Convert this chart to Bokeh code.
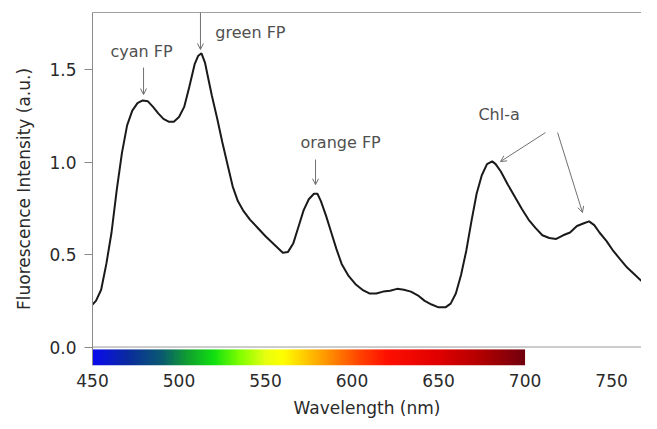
import numpy as np
from bokeh.plotting import figure
from bokeh.models import (Range1d, FixedTicker, LinearAxis, Label, Arrow, OpenHead,
                          Span, PrintfTickFormatter)
from bokeh.embed import file_html
from bokeh.resources import INLINE

# ---------------- data ----------------
wavelength = [450, 452, 455, 458, 461, 464, 467, 470, 473, 476, 479, 482, 485, 488,
              491, 494, 497, 500, 503, 506, 509, 511, 513, 515, 517, 519, 522, 525,
              528, 531, 534, 537, 541, 545, 550, 555, 560, 563, 566, 569, 572, 575,
              578, 580, 582, 585, 588, 591, 594, 598, 602, 606, 610, 614, 618, 622,
              626, 630, 634, 638, 642, 646, 650, 654, 657, 660, 663, 666, 669, 672,
              675, 678, 681, 683, 686, 690, 694, 698, 702, 706, 710, 714, 718, 722,
              726, 730, 734, 737, 740, 743, 747, 751, 755, 759, 763, 767, 771]
intensity = [0.23, 0.25, 0.31, 0.45, 0.62, 0.85, 1.05, 1.20, 1.28, 1.32, 1.335, 1.33,
             1.30, 1.265, 1.235, 1.22, 1.22, 1.245, 1.30, 1.41, 1.53, 1.575, 1.59,
             1.54, 1.45, 1.36, 1.24, 1.11, 0.99, 0.87, 0.79, 0.74, 0.69, 0.65, 0.60,
             0.555, 0.51, 0.515, 0.56, 0.65, 0.74, 0.80, 0.83, 0.83, 0.79, 0.71, 0.62,
             0.53, 0.45, 0.385, 0.34, 0.31, 0.29, 0.29, 0.30, 0.305, 0.315, 0.31,
             0.30, 0.28, 0.25, 0.23, 0.215, 0.215, 0.235, 0.29, 0.39, 0.52, 0.68,
             0.83, 0.93, 0.99, 1.005, 0.99, 0.95, 0.88, 0.815, 0.75, 0.69, 0.645,
             0.605, 0.59, 0.585, 0.605, 0.62, 0.655, 0.67, 0.68, 0.66, 0.62, 0.575,
             0.52, 0.475, 0.43, 0.395, 0.36, 0.33]

x_ticks = [450, 500, 550, 600, 650, 700, 750]
y_ticks = [0.0, 0.5, 1.0, 1.5]

# annotation texts and positions
ann_text = ["cyan FP", "green FP", "orange FP", "Chl-a"]
ann_x = [478.3, 521.0, 593.4, 685.0]
ann_y = [1.600, 1.703, 1.107, 1.258]
ann_align = ["center", "left", "center", "center"]
# arrows: (x_start, y_start, x_end, y_end)
arr_x0 = [479.5, 512.4, 578.9, 711.8, 718.8]
arr_y0 = [1.513, 1.811, 1.015, 1.161, 1.161]
arr_x1 = [479.5, 512.4, 578.9, 685.8, 733.2]
arr_y1 = [1.367, 1.611, 0.879, 1.004, 0.728]

# colour strip stops (wavelength -> colour)
strip_nm = [450, 470, 490, 505, 520, 535, 550, 560, 575, 590, 605, 620, 650, 675, 700]
strip_col = ["#0a0af0", "#0a2aa0", "#0a5a70", "#10a030", "#10e010", "#80ff00",
             "#e8ff10", "#ffff00", "#ffc000", "#ff8000", "#ff4000", "#ff1000",
             "#e00000", "#b00000", "#700010"]

FONT = "DejaVu Sans"

p = figure(frame_width=549, frame_height=353,
           x_range=Range1d(450, 767.3), y_range=Range1d(-0.100, 1.811),
           output_backend="svg", toolbar_location=None,
           x_axis_location="below", y_axis_location="left",
           min_border_left=92, min_border_top=12, min_border_right=0,
           min_border_bottom=0)
p.outline_line_color = None
p.grid.grid_line_color = None
p.background_fill_color = "white"
p.border_fill_color = "white"

xa = p.below[0]
ya = p.left[0]

# colour strip under the zero line
n = np.arange(450, 700)
def _rgb(h):
    return [int(h[i:i + 2], 16) for i in (1, 3, 5)]
cols = np.array([_rgb(c) for c in strip_col])
r = np.interp(n + 0.5, strip_nm, cols[:, 0])
g = np.interp(n + 0.5, strip_nm, cols[:, 1])
b = np.interp(n + 0.5, strip_nm, cols[:, 2])
img = np.empty((1, len(n)), dtype=np.uint32)
view = img.view(dtype=np.uint8).reshape((1, len(n), 4))
view[0, :, 0] = r.astype(np.uint8)
view[0, :, 1] = g.astype(np.uint8)
view[0, :, 2] = b.astype(np.uint8)
view[0, :, 3] = 255
p.image_rgba(image=[img], x=strip_nm[0], y=-0.100, dw=strip_nm[-1] - strip_nm[0], dh=0.087)

# zero line (x axis line)
p.add_layout(Span(location=0, dimension="width", line_color="#9a9a9a", line_width=1))

# spectrum
p.line(wavelength, intensity, line_color="#1a1a1a", line_width=2)

# x axis
xa.ticker = FixedTicker(ticks=x_ticks)
xa.axis_line_color = None
xa.major_tick_line_color = None
xa.minor_tick_line_color = None
xa.major_label_standoff = 2
xa.major_label_text_font = FONT
xa.major_label_text_font_size = "17px"
xa.major_label_text_color = "#2a2a2a"
xa.axis_label = "Wavelength (nm)"
xa.axis_label_text_font = FONT
xa.axis_label_text_font_size = "17px"
xa.axis_label_text_font_style = "normal"
xa.axis_label_text_color = "#2a2a2a"
xa.axis_label_standoff = 8

# y axis
ya.ticker = FixedTicker(ticks=y_ticks)
ya.formatter = PrintfTickFormatter(format="%.1f")
ya.axis_line_color = "#8a8a8a"
ya.major_tick_line_color = "#8a8a8a"
ya.major_tick_out = 8
ya.major_tick_in = 0
ya.minor_tick_line_color = None
ya.major_label_standoff = 8
ya.major_label_text_font = FONT
ya.major_label_text_font_size = "17px"
ya.major_label_text_color = "#2a2a2a"
ya.axis_label = "Fluorescence Intensity (a.u.)"
ya.axis_label_text_font = FONT
ya.axis_label_text_font_size = "17px"
ya.axis_label_text_font_style = "normal"
ya.axis_label_text_color = "#2a2a2a"
ya.axis_label_standoff = 12

# top border
top = LinearAxis(ticker=FixedTicker(ticks=[]), axis_line_color="#a0a0a0",
                 major_tick_line_color=None, minor_tick_line_color=None,
                 major_label_text_font_size="0px", axis_label=None,
                 major_tick_out=0, major_tick_in=0, major_label_standoff=0)
p.add_layout(top, "above")

# annotations
for t, x, y, al in zip(ann_text, ann_x, ann_y, ann_align):
    p.add_layout(Label(x=x, y=y, text=t, text_align=al, text_baseline="middle",
                       text_font=FONT, text_font_size="16px", text_color="#505050"))
for x0, y0, x1, y1 in zip(arr_x0, arr_y0, arr_x1, arr_y1):
    p.add_layout(Arrow(end=OpenHead(size=6, line_color="#707070", line_width=1),
                       x_start=x0, y_start=y0, x_end=x1, y_end=y1,
                       line_color="#707070", line_width=1))

open("out.html", "w").write(file_html(p, INLINE))
